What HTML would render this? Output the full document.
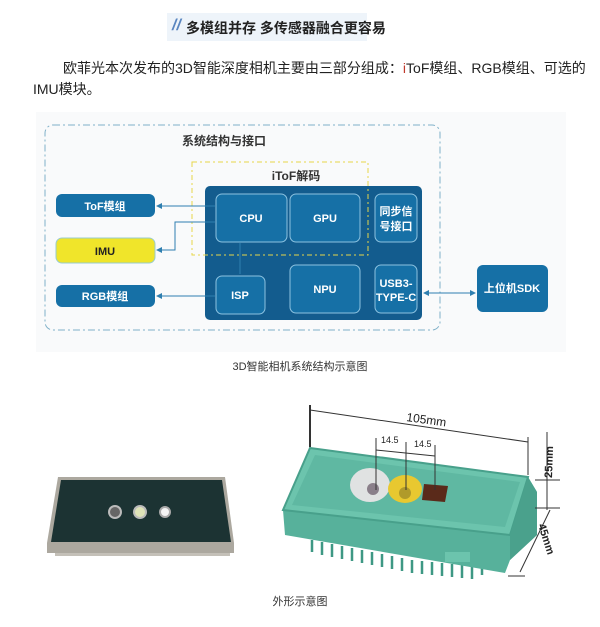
<!DOCTYPE html>
<html><head><meta charset="utf-8"><style>
body{margin:0;width:600px;height:627px;background:#fff;overflow:hidden;font-family:"Liberation Sans","Noto Sans CJK SC",sans-serif}
</style></head><body>
<svg width="600" height="627" viewBox="0 0 600 627" xmlns="http://www.w3.org/2000/svg" style="position:absolute;left:0;top:0;font-family:'Liberation Sans','Noto Sans CJK SC',sans-serif">
<rect x="167" y="13" width="200" height="28" fill="#eef4fa"/>
<text x="172" y="30" font-size="16" font-weight="bold" fill="#5a86c0" font-style="italic">//</text>
<text x="186" y="33" font-size="14" font-weight="bold" fill="#222">多模组并存 多传感器融合更容易</text>
<text x="63" y="73" font-size="14" fill="#222">欧菲光本次发布的3D智能深度相机主要由三部分组成：<tspan fill="#c0392b">i</tspan>ToF模组、RGB模组、可选的</text>
<text x="33" y="94" font-size="14" fill="#222">IMU模块。</text>
<rect x="36" y="112" width="530" height="240" fill="#f9fafb"/>
<rect x="45" y="125" width="395" height="205" rx="8" fill="none" stroke="#7fb0c8" stroke-width="1" stroke-dasharray="7,3,2,3"/>
<text x="182" y="145" font-size="12" fill="#333" font-weight="bold">系统结构与接口</text>
<rect x="205" y="186" width="217" height="134" rx="5" fill="#135c8e"/>
<rect x="192" y="162" width="176" height="93" fill="none" stroke="#e6d64a" stroke-dasharray="5,3,2,3"/>
<text x="296" y="180" font-size="12" font-weight="bold" fill="#333" text-anchor="middle">iToF解码</text>
<g fill="#1670a6" stroke="#8cc2e0" stroke-width="1">
<rect x="216" y="194" width="71" height="48" rx="6"/>
<rect x="290" y="194" width="70" height="48" rx="6"/>
<rect x="375" y="194" width="42" height="48" rx="6"/>
<rect x="216" y="276" width="49" height="38" rx="6"/>
<rect x="290" y="265" width="70" height="48" rx="6"/>
<rect x="375" y="265" width="42" height="48" rx="6"/>
</g>
<g fill="#fff" font-size="11" text-anchor="middle" font-weight="bold">
<text x="251" y="222">CPU</text><text x="325" y="222">GPU</text>
<text x="396" y="215">同步信</text><text x="396" y="230">号接口</text>
<text x="240" y="299">ISP</text><text x="325" y="293">NPU</text>
<text x="396" y="287">USB3-</text><text x="396" y="301">TYPE-C</text>
</g>
<rect x="56" y="194" width="99" height="23" rx="6" fill="#1670a6"/>
<rect x="56" y="238" width="99" height="25" rx="6" fill="#f0e52a" stroke="#9cc" />
<rect x="56" y="285" width="99" height="22" rx="6" fill="#1670a6"/>
<rect x="477" y="265" width="71" height="47" rx="6" fill="#1670a6"/>
<g font-size="11" text-anchor="middle" font-weight="bold">
<text x="105" y="210" fill="#fff">ToF模组</text>
<text x="105" y="255" fill="#222">IMU</text>
<text x="105" y="300" fill="#fff">RGB模组</text>
<text x="512" y="292" fill="#fff">上位机SDK</text>
</g>
<g stroke="#2f7fb0" stroke-width="1" fill="none">
<path d="M158 206H215"/><path d="M215 222H175V250H158"/><path d="M158 296H215"/>
<path d="M240 243V274"/><path d="M425 293H474"/>
</g>
<g fill="#2f7fb0">
<path d="M156 206l6-3v6z"/><path d="M156 250l6-3v6z"/><path d="M156 296l6-3v6z"/>
<path d="M476 293l-6-3v6z"/><path d="M423 293l6-3v6z"/>
</g>
<text x="300" y="370" font-size="11" fill="#333" text-anchor="middle">3D智能相机系统结构示意图</text>
<!-- left photo -->
<path d="M58 477 L225 477 L234 543 L234 553 L47 553 L47 543Z" fill="#aca89f"/>
<path d="M61 480 L222 480 L231 542 L51 542Z" fill="#1c3333"/>
<rect x="55" y="553" width="175" height="3" fill="#c4c0b8"/>
<circle cx="115" cy="512" r="6" fill="#666" stroke="#bbb" stroke-width="2"/>
<circle cx="140" cy="512" r="6" fill="#dfe4b8" stroke="#bbb" stroke-width="2"/>
<circle cx="165" cy="512" r="5" fill="#f4f4f4" stroke="#aaa" stroke-width="2"/>
<!-- green camera -->
<g stroke="#3e9884" stroke-width="2.5">
<path d="M312 540v12M322 542v13M332 544v13M342 546v13M352 548v13M362 550v13M372 552v13M382 554v13M392 556v13M402 558v13M412 560v13M422 561v13M432 562v13M442 563v13M452 564v13M462 565v13M472 566v13M482 567v8"/>
</g>
<path d="M283 510 L310 448 L528 477 L537 492 L537 535 L510 560 L505 573 L285 535Z" fill="#57b19b"/>
<path d="M283 510 L310 448 L528 477 L510 535Z" fill="#6cc4ad" stroke="#48a08b" stroke-width="2"/>
<path d="M292 505 L315 455 L520 482 L505 527Z" fill="#5fb8a2"/>
<path d="M510 535 L528 477 L537 492 L537 535 L510 560Z" fill="#4aa18c"/>
<rect x="445" y="552" width="25" height="10" fill="#6cc4ad"/>
<ellipse cx="370" cy="485" rx="20" ry="17" fill="#e0e2e2"/><circle cx="373" cy="489" r="6" fill="#8a7f8a"/>
<ellipse cx="405" cy="489" rx="17" ry="14" fill="#e8c830"/><circle cx="405" cy="493" r="6" fill="#b09a2a"/>
<path d="M424 484 L448 486 L445 502 L422 500Z" fill="#5a2a1a"/>
<g stroke="#333" stroke-width="1" fill="none">
<path d="M310 410L528 442"/><path d="M310 405V447" stroke-width="2"/><path d="M528 437V475"/>
<path d="M376 438V490"/><path d="M406 442V490"/><path d="M435 445V490"/><path d="M376 450L435 456"/>
<path d="M547 432V510"/><path d="M535 480H560M535 508H560"/><path d="M550 510L520 572"/><path d="M508 576H525"/>
</g>
<text x="406" y="421" font-size="12" fill="#222" transform="rotate(8 406 421)">105mm</text>
<text x="381" y="443" font-size="9" fill="#222">14.5</text><text x="414" y="447" font-size="9" fill="#222">14.5</text>
<text x="552" y="478" font-size="11" font-weight="bold" fill="#222" transform="rotate(-88 552 478)">25mm</text>
<text x="538" y="525" font-size="11" font-weight="bold" fill="#222" transform="rotate(72 538 525)">45mm</text>
<text x="300" y="605" font-size="11" fill="#333" text-anchor="middle">外形示意图</text>
</svg>
</body></html>
